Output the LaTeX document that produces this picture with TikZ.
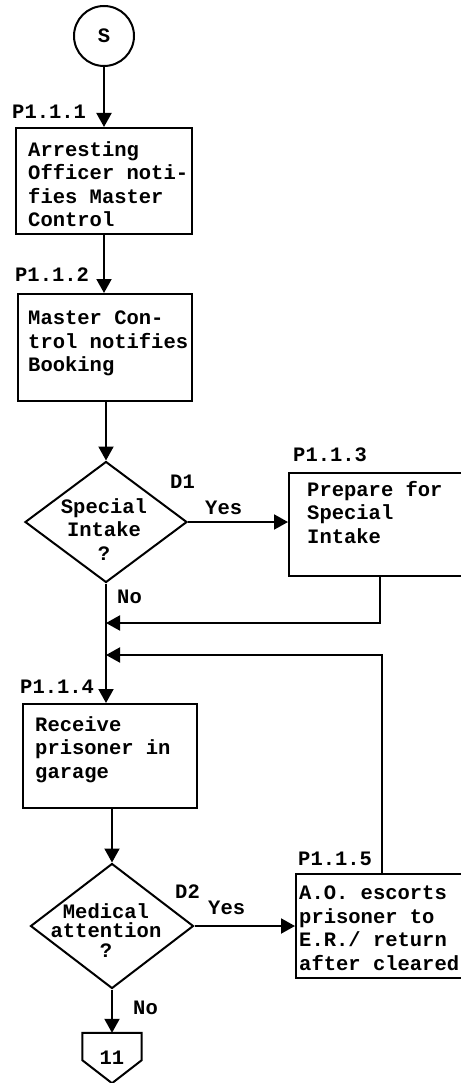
\documentclass[tikz,border=0pt]{standalone}
\usepackage{fontspec}
\setmainfont{Liberation Mono}
\usetikzlibrary{shapes.geometric,arrows.meta}

\begin{document}
\begin{tikzpicture}[x=1pt,y=1pt,yscale=-1,xscale=1,
  every node/.style={font=\fontsize{20.5}{23.5}\selectfont\bfseries},
  proc/.style={draw,line width=2pt,rectangle,anchor=north west,inner sep=0pt},
  dec/.style={draw,line width=2pt,diamond,inner sep=0pt},
  words/.style={anchor=north west,inner sep=0pt,align=left},
  tag/.style={anchor=west,inner sep=0pt},
  flow/.style={line width=2pt,-{Triangle[length=14pt,width=15pt]}}]
\path [use as bounding box] (0,0) rectangle (460,1083);

%Shape: Circle
\draw (104,36) node [draw,circle,line width=2pt,minimum size=60pt,inner sep=0pt] (start) {S};

%Shape: Rectangle
\draw (15,127) node [proc,minimum width=176pt,minimum height=106pt] (p111) {};
%Shape: Rectangle
\draw (17,293) node [proc,minimum width=174pt,minimum height=107pt] (p112) {};
%Shape: Diamond
\draw (106,522) node [dec,minimum width=162pt,minimum height=121pt] (d1) {};
%Shape: Rectangle
\draw (288,472) node [proc,minimum width=182pt,minimum height=103pt] (p113) {};
%Shape: Rectangle
\draw (22,703) node [proc,minimum width=174pt,minimum height=104pt] (p114) {};
%Shape: Diamond
\draw (112,926) node [dec,minimum width=163pt,minimum height=125pt] (d2) {};
%Shape: Rectangle
\draw (295,873) node [proc,minimum width=172pt,minimum height=104pt] (p115) {};
%Shape: Off-page connector
\draw (112,1058) node [minimum width=59pt,minimum height=50pt,inner sep=0pt] (c11) {11};
\draw [line width=2pt] (c11.north west) -- ([yshift=-23pt]c11.south west) -- (c11.south)
  -- ([yshift=-23pt]c11.south east) -- (c11.north east) -- cycle;

\coordinate (j1) at (106,623);
\coordinate (j2) at (106,655);

%Straight Lines
\draw [flow] (start.south) -- (start.south |- p111.north);
\draw [flow] (p111.south) -- (p111.south |- p112.north);
\draw [flow] (d1.north |- p112.south) -- (d1.north);
\draw [flow] (d1.east) -- (d1.east -| p113.west);
\draw [flow] (p113.south) |- (j1);
\draw [flow] (p115.north) |- (j2);
\draw [flow] (d1.south) -- (d1.south |- p114.north);
\draw [flow] (d2.north |- p114.south) -- (d2.north);
\draw [flow] (d2.east) -- (d2.east -| p115.west);
\draw [flow] (d2.south) -- (d2.south |- c11.north);

% Text Node
\draw (12,112) node [tag] (l111) {P1.1.1};
\draw (15,275) node [tag] (l112) {P1.1.2};
\draw (293,455) node [tag] (l113) {P1.1.3};
\draw (20,687) node [tag] (l114) {P1.1.4};
\draw (298,859) node [tag] (l115) {P1.1.5};
\draw (170,482) node [tag] (ld1) {D1};
\draw (175,892) node [tag] (ld2) {D2};
\draw (205,508) node [tag] (yes1) {Yes};
\draw (208,908) node [tag] (yes2) {Yes};
\draw (117,597) node [tag] (no1) {No};
\draw (133,1008) node [tag] (no2) {No};

% Text Node
\draw (28,141) node [words] (t111) {Arresting\\Officer noti-\\fies Master\\Control};
% Text Node
\draw (28,311) node [words] (t112) {Master Con-\\trol notifies\\Booking};
% Text Node
\draw (307,481) node [words] (t113) {Prepare for\\Special\\Intake};
% Text Node
\draw (35,716) node [words] (t114) {Receive\\prisoner in\\garage};
% Text Node
\draw (299,886) node [words] (t115) {A.O. escorts\\prisoner to\\E.R./ return\\after cleared};
% Text Node
\draw (104,498) node [anchor=north,inner sep=0pt,align=center] (q1) {Special\\Intake\\?};
% Text Node
\draw (106,903) node [anchor=north,inner sep=0pt,align=center] (q2) {Medical\\[-4pt]attention\\[-4pt]?};

\end{tikzpicture}
\end{document}
